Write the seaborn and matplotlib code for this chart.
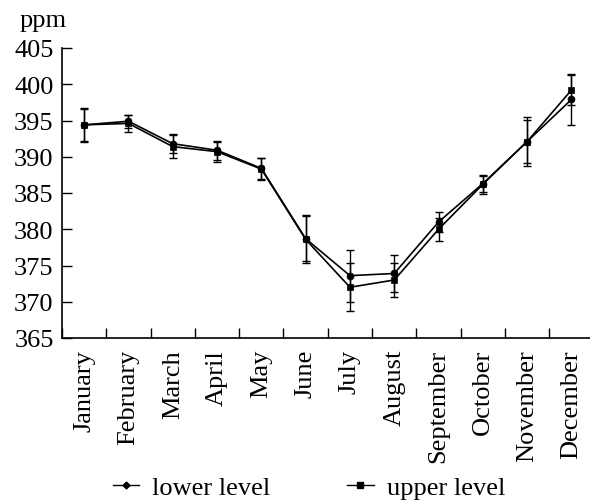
import matplotlib
matplotlib.use("Agg")
import matplotlib.pyplot as plt
import seaborn as sns
import pandas as pd
from matplotlib.lines import Line2D

months = ["January", "February", "March", "April", "May", "June", "July",
          "August", "September", "October", "November", "December"]
lower_level = [394.4, 394.9, 391.8, 390.9, 388.4, 378.7, 373.6, 373.9, 381.0, 386.3, 392.1, 397.9]
lower_err = [2.2, 0.9, 1.3, 1.3, 1.4, 3.1, 3.6, 2.6, 1.4, 1.1, 3.0, 3.5]
upper_level = [394.4, 394.6, 391.4, 390.7, 388.3, 378.6, 372.0, 373.0, 380.0, 386.2, 392.1, 399.2]
upper_err = [2.3, 1.2, 1.6, 1.4, 1.5, 3.3, 3.3, 2.4, 1.6, 1.3, 3.4, 2.1]
yticks = [365, 370, 375, 380, 385, 390, 395, 400, 405]

plt.rcParams["font.family"] = ["Liberation Serif", "DejaVu Serif"]
plt.rcParams["font.size"] = 19

df = pd.DataFrame({
    "month": months * 2,
    "ppm": lower_level + upper_level,
    "series": ["lower level"] * 12 + ["upper level"] * 12,
})

fig = plt.figure(figsize=(5.9, 5.02), dpi=100)
ax = fig.add_axes([62 / 590, 163 / 502, 531.6 / 590, 290 / 502])

sns.lineplot(data=df, x="month", y="ppm", hue="series", style="series",
             markers={"lower level": "o", "upper level": "s"},
             dashes=False, palette={"lower level": "black", "upper level": "black"},
             markersize=5, markeredgecolor="black", markeredgewidth=0.5,
             linewidth=1.2, ax=ax, legend=False, sort=False)
xs = list(range(len(months)))
ax.errorbar(xs, lower_level, yerr=lower_err, fmt="none", ecolor="black",
            elinewidth=1.0, capsize=2.6, capthick=1.0)
ax.errorbar(xs, upper_level, yerr=upper_err, fmt="none", ecolor="black",
            elinewidth=1.0, capsize=2.6, capthick=1.0)

ax.set_xlim(-0.5, 11.5)
ax.set_ylim(365, 405)
ax.set_yticks(yticks)
ax.set_yticklabels([str(v) for v in yticks], fontsize=19)
ax.set_xticks(xs)
ax.set_xticklabels(months, rotation=90, fontsize=19)
ax.tick_params(axis="x", which="major", length=0, pad=8)
ax.set_xticks([i + 0.5 for i in range(-1, 12)], minor=True)
ax.tick_params(axis="x", which="minor", direction="in", length=7, width=1)
ax.tick_params(axis="y", direction="in", length=7, width=1, pad=6)
ax.set_xlabel("")
ax.set_ylabel("")
for s in ["top", "right"]:
    ax.spines[s].set_visible(False)
for s in ["left", "bottom"]:
    ax.spines[s].set_linewidth(1.2)

fig.text(20 / 590, 1 - 27 / 502, "ppm", fontsize=19, va="baseline", ha="left")

handles = [
    Line2D([], [], color="black", marker="D", markersize=3.5, linewidth=1),
    Line2D([], [], color="black", marker="s", markersize=4, linewidth=1),
]
fig.legend(handles, ["lower level", "upper level"], loc="center",
           bbox_to_anchor=(309 / 590, 1 - 488 / 502), ncol=2, frameon=False,
           fontsize=19, handlelength=1.0, handletextpad=0.5, columnspacing=2.9,
           borderpad=0, borderaxespad=0)

fig.savefig("out.png", dpi=100)
